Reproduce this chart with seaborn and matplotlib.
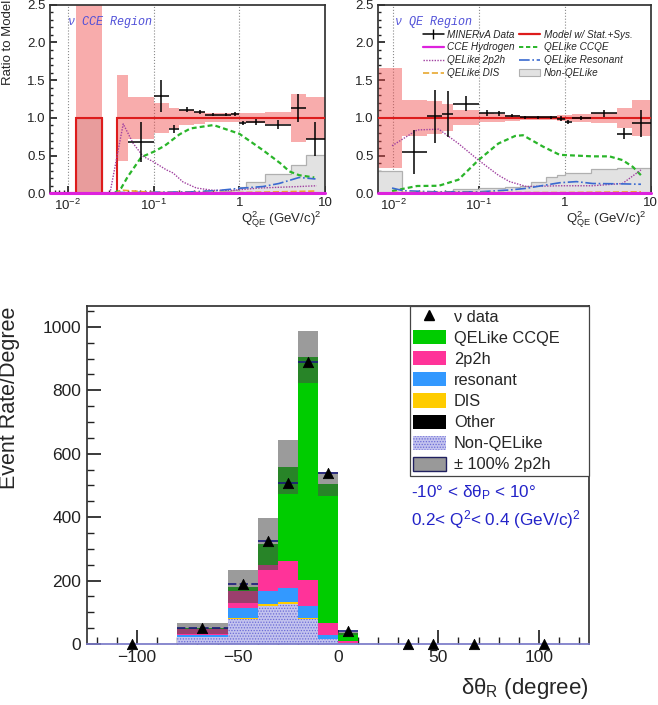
import numpy as np
import pandas as pd
import seaborn as sns
import matplotlib.pyplot as plt
from matplotlib.lines import Line2D
from matplotlib.patches import Patch
from matplotlib.colors import to_rgb
from matplotlib.ticker import FixedLocator, MultipleLocator, LogLocator, NullFormatter, FormatStrFormatter

# --------------------------
# Global style
# --------------------------
sns.set_theme(style="ticks")
plt.rcParams["font.family"] = ["Liberation Sans", "DejaVu Sans"]
plt.rcParams["mathtext.fontset"] = "custom"
plt.rcParams["mathtext.rm"] = "Liberation Sans"
plt.rcParams["mathtext.it"] = "Liberation Sans:italic"
plt.rcParams["hatch.color"] = "#6b6bd6"
plt.rcParams["hatch.linewidth"] = 0.6
plt.rcParams["axes.edgecolor"] = "#333333"

# =========================================================
# 1. Data: ratio to model vs Q2_QE (two regions)
# =========================================================
q2_edges = [0.00625, 0.0125, 0.025, 0.0375, 0.05, 0.1, 0.15, 0.2, 0.3, 0.4,
            0.6, 0.8, 1.0, 1.2, 2.0, 4.0, 6.0, 10.0]

# CCE region
model_cce = [0, 1, 0, 1, 1, 1, 1, 1, 1, 1, 1, 1, 1, 1, 1, 1, 1]
band_cce = [0, 2.0, 0, 0.57, 0.28, 0.20, 0.13, 0.10, 0.08, 0.06, 0.06, 0.06,
            0.06, 0.07, 0.08, 0.32, 0.28]
nonqe_cce = [0, 1.0, 0, 0, 0, 0.02, 0.02, 0.02, 0.02, 0.02, 0.03, 0.05,
             0.08, 0.15, 0.26, 0.37, 0.51]
data_cce = [np.nan, np.nan, np.nan, np.nan, 0.68, 1.29, 0.85, 1.11, 1.08, 1.04,
            1.04, 1.05, 0.93, 0.945, 0.91, 1.13, 0.72]
err_cce = [np.nan, np.nan, np.nan, np.nan, 0.27, 0.21, 0.05, 0.03, 0.03, 0.02,
           0.02, 0.03, 0.03, 0.04, 0.06, 0.19, 0.22]

q2_h_cce = [0.0062, 0.01, 0.1, 1.0, 10.0]
v_h_cce = [0.0, 0.0, 0.0, 0.0, 0.0]
q2_ccqe_cce = [0.035, 0.042, 0.05, 0.072, 0.1, 0.135, 0.2, 0.27, 0.5, 1.0, 1.9, 3.0, 3.85, 5.0, 7.5]
v_ccqe_cce = [0.0, 0.07, 0.22, 0.48, 0.55, 0.63, 0.78, 0.86, 0.905, 0.79, 0.57, 0.40, 0.29, 0.24, 0.21]
q2_2p2h_cce = [0.031, 0.0443, 0.058, 0.0757, 0.099, 0.1416, 0.169, 0.221, 0.316, 0.493, 0.843, 1.72, 5.0, 8.0]
v_2p2h_cce = [0.0, 0.92, 0.66, 0.49, 0.42, 0.31, 0.27, 0.15, 0.07, 0.04, 0.04, 0.07, 0.09, 0.10]
q2_res_cce = [0.035, 0.1, 0.3, 0.6, 1.0, 1.9, 2.9, 5.0, 7.75]
v_res_cce = [0.01, 0.015, 0.02, 0.04, 0.066, 0.09, 0.13, 0.21, 0.19]
q2_dis_cce = [0.035, 0.044, 0.06, 0.1, 1.0, 3.0, 7.75]
v_dis_cce = [0.0, 0.04, 0.03, 0.01, 0.01, 0.02, 0.03]

# QE region
model_qe = [1, 1, 1, 1, 1, 1, 1, 1, 1, 1, 1, 1, 1, 1, 1, 1, 1]
band_qe = [0.66, 0.24, 0.22, 0.18, 0.10, 0.06, 0.05, 0.04, 0.03, 0.03, 0.03,
           0.04, 0.04, 0.05, 0.07, 0.13, 0.24]
nonqe_qe = [0.30, 0.02, 0.02, 0.02, 0.06, 0.07, 0.07, 0.08, 0.10, 0.155, 0.22,
            0.24, 0.265, 0.265, 0.32, 0.33, 0.33]
data_qe = [np.nan, 0.55, 1.02, 1.05, 1.19, 1.06, 1.06, 1.025, 1.01, 1.01, 1.01,
           0.99, 0.945, 1.0, 1.06, 0.79, 0.93]
err_qe = [np.nan, 0.29, 0.35, 0.30, 0.10, 0.04, 0.03, 0.02, 0.02, 0.02, 0.02,
          0.03, 0.03, 0.03, 0.05, 0.07, 0.18]

q2_h_qe = [0.0066, 0.01, 0.1, 1.0, 10.0]
v_h_qe = [0.0, 0.0, 0.0, 0.0, 0.0]
q2_ccqe_qe = [0.0097, 0.019, 0.034, 0.0575, 0.0985, 0.168, 0.263, 0.325, 0.555, 0.87, 2.1, 3.3, 4.7, 6.2, 7.7]
v_ccqe_qe = [0.03, 0.097, 0.10, 0.18, 0.44, 0.66, 0.76, 0.77, 0.62, 0.51, 0.49, 0.49, 0.44, 0.35, 0.24]
q2_2p2h_qe = [0.0097, 0.019, 0.034, 0.0575, 0.0985, 0.168, 0.227, 0.356, 0.87, 2.1, 4.7, 7.7]
v_2p2h_qe = [0.63, 0.84, 0.85, 0.66, 0.44, 0.24, 0.155, 0.09, 0.10, 0.10, 0.13, 0.31]
q2_res_qe = [0.0097, 0.013, 0.03, 0.1, 0.227, 0.356, 0.6, 0.87, 1.36, 2.1, 4.7, 7.7]
v_res_qe = [0.07, 0.035, 0.02, 0.02, 0.044, 0.066, 0.11, 0.14, 0.155, 0.13, 0.125, 0.12]
q2_dis_qe = [0.0097, 0.1, 1.0, 7.7]
v_dis_qe = [0.01, 0.01, 0.01, 0.02]

# =========================================================
# 2. Data: event rate vs delta theta_R
# =========================================================
dtr_edges = [-125, -80, -55, -40, -30, -20, -10, 0, 10, 20, 30, 40, 55, 80, 125]
rate_ccqe = [0, 4, 15, 65, 296, 704, 439, 25, 0, 0, 0, 0, 0, 0]
rate_2p2h = [0, 17, 53, 82, 84, 82, 38, 5, 0, 0, 0, 0, 0, 0]
rate_res = [0, 6, 30, 42, 45, 38, 12, 2, 0, 0, 0, 0, 0, 0]
rate_dis = [0, 1, 3, 5, 7, 3, 1, 0, 0, 0, 0, 0, 0, 0]
rate_other = [0, 0, 0, 0, 0, 0, 0, 0, 0, 0, 0, 0, 0, 0]
rate_nonqe = [0, 22, 80, 120, 126, 79, 15, 2, 0, 0, 0, 0, 0, 0]
rate_data = [0, 50, 189, 326, 507, 889, 538, 42, np.nan, np.nan, 0, 0, 0, 0]

components = ["QELike CCQE", "2p2h", "resonant", "DIS", "Other", "Non-QELike"]
comp_colors = ["#00cc00", "#ff3399", "#3399ff", "#ffcc00", "#000000", "#c3c3ee"]

# --------------------------
# Figure
# --------------------------
fig = plt.figure(figsize=(6.58, 7.05), dpi=100)
ax1 = fig.add_axes([0.0760, 0.7258, 0.4179, 0.2675])
ax2 = fig.add_axes([0.5740, 0.7258, 0.4149, 0.2675])
ax3 = fig.add_axes([0.1322, 0.0865, 0.7629, 0.4799])


def ratio_panel(ax, xlim, model, band, nonqe, data, err, curves, region):
    model = np.array(model, float)
    band = np.array(band, float)
    ax.stairs(nonqe, q2_edges, fill=True, color="#e2e2e2", lw=0, zorder=1)
    ax.stairs(nonqe, q2_edges, baseline=None, color="#b0b0b0", lw=0.9, zorder=1.1)
    ax.stairs(model + band, q2_edges, baseline=model - band, fill=True,
              color="#f04848", alpha=0.45, lw=0, zorder=2)
    ax.stairs(model, q2_edges, baseline=None, color="#dd1c1c", lw=1.5, zorder=3)
    for x, y, color, ls, lw in curves:
        sns.lineplot(x=x, y=y, ax=ax, color=color, linestyle=ls, lw=lw, zorder=4)
    # hydrogen line on top, not clipped at the axis
    sns.lineplot(x=curves[0][0], y=curves[0][1], ax=ax, color="#dd22dd", lw=2.2,
                 zorder=4.5, clip_on=False)

    edges = np.array(q2_edges)
    lo_e, hi_e = edges[:-1], edges[1:]
    centers = np.sqrt(lo_e * hi_e)
    ax.errorbar(centers, data, xerr=[centers - lo_e, hi_e - centers], yerr=err,
                fmt="none", ecolor="black", elinewidth=1.1, capsize=0, zorder=6)

    for v in [0.01, 0.1, 1]:
        ax.axvline(v, color="#8a8a8a", ls=":", lw=0.8, zorder=0.5)

    ax.set_xscale("log")
    ax.set_xlim(*xlim)
    ax.set_ylim(0, 2.5)
    ax.xaxis.set_major_locator(FixedLocator([0.01, 0.1, 1, 10]))
    ax.set_xticklabels(["$10^{-2}$", "$10^{-1}$", "1", "10"])
    ax.xaxis.set_minor_locator(LogLocator(subs=np.arange(2, 10)))
    ax.xaxis.set_minor_formatter(NullFormatter())
    ax.yaxis.set_major_locator(MultipleLocator(0.5))
    ax.yaxis.set_minor_locator(MultipleLocator(0.1))
    ax.yaxis.set_major_formatter(FormatStrFormatter("%.1f"))
    ax.tick_params(which="both", direction="in", labelsize=9.5, pad=3,
                   colors="#222222")
    ax.tick_params(which="major", length=5)
    ax.tick_params(which="minor", length=2.5)
    ax.set_xlabel(r"Q$^{2}_{\rm QE}$ (GeV/c)$^{2}$", fontsize=9.5, loc="right")
    ax.xaxis.set_label_coords(0.985, -0.085)
    ax.xaxis.label.set_va("top")
    ax.set_ylabel("")
    ax.text(0.065, 0.91, region, transform=ax.transAxes, color="#5050d8",
            fontsize=8.5, family=["Liberation Mono", "DejaVu Sans Mono"],
            style="italic", va="center", ha="left")


curves_cce = [
    (q2_h_cce, v_h_cce, "#dd22dd", "-", 2.2),
    (q2_ccqe_cce, v_ccqe_cce, "#2ab52a", (0, (2.2, 1.4)), 1.6),
    (q2_2p2h_cce, v_2p2h_cce, "#a040a0", (0, (1, 1)), 1.0),
    (q2_res_cce, v_res_cce, "#3a6ad0", "-.", 1.2),
    (q2_dis_cce, v_dis_cce, "#e8a830", "--", 1.2),
]
curves_qe = [
    (q2_h_qe, v_h_qe, "#dd22dd", "-", 2.2),
    (q2_ccqe_qe, v_ccqe_qe, "#2ab52a", (0, (2.2, 1.4)), 1.6),
    (q2_2p2h_qe, v_2p2h_qe, "#a040a0", (0, (1, 1)), 1.0),
    (q2_res_qe, v_res_qe, "#3a6ad0", "-.", 1.2),
    (q2_dis_qe, v_dis_qe, "#e8a830", "--", 1.2),
]

ratio_panel(ax1, (0.0062, 10), model_cce, band_cce, nonqe_cce, data_cce, err_cce,
            curves_cce, "ν CCE Region")
ratio_panel(ax2, (0.0066, 10), model_qe, band_qe, nonqe_qe, data_qe, err_qe,
            curves_qe, "ν QE Region")

ax1.set_ylabel("Ratio to Model", fontsize=9.5, loc="top")
ax1.yaxis.set_label_coords(-0.13, 1.025)

leg_handles = [
    Line2D([], [], color="black", lw=1.1, marker="|", markersize=7),
    Line2D([], [], color="#dd22dd", lw=1.6),
    Line2D([], [], color="#a040a0", lw=1.0, ls=(0, (1, 1))),
    Line2D([], [], color="#e8a830", lw=1.2, ls="--"),
    Line2D([], [], color="#dd1c1c", lw=1.6),
    Line2D([], [], color="#2ab52a", lw=1.4, ls=(0, (2.2, 1.4))),
    Line2D([], [], color="#3a6ad0", lw=1.2, ls="-."),
    Patch(facecolor="#e2e2e2", edgecolor="#b0b0b0", lw=0.8),
]
leg_labels = ["MINERvA Data", "CCE Hydrogen", "QELike 2p2h", "QELike DIS",
              "Model w/ Stat.+Sys.", "QELike CCQE", "QELike Resonant", "Non-QELike"]
ax2.legend(leg_handles, leg_labels, ncol=2, loc="upper left",
           bbox_to_anchor=(0.165, 0.868), frameon=False,
           prop={"size": 7.2, "style": "italic"}, handlelength=2.1,
           handleheight=0.6, handletextpad=0.35, labelspacing=0.28,
           columnspacing=0.45, borderaxespad=0, borderpad=0)

# =========================================================
# Bottom panel: stacked event rate
# =========================================================
dtr_lo = np.array(dtr_edges[:-1], float)
dtr_hi = np.array(dtr_edges[1:], float)
dtr_centers = 0.5 * (dtr_lo + dtr_hi)

rates = [rate_ccqe, rate_2p2h, rate_res, rate_dis, rate_other, rate_nonqe]
df_stack = pd.DataFrame({
    "center": np.tile(dtr_centers, len(components)),
    "rate": np.concatenate([np.array(r, float) for r in rates]),
    "component": np.repeat(components, len(dtr_centers)),
})

sns.histplot(data=df_stack, x="center", weights="rate", hue="component",
             hue_order=components, palette=comp_colors, bins=dtr_edges,
             multiple="stack", element="bars", alpha=1, linewidth=0,
             legend=False, ax=ax3)

nonqe_rgb = np.array(to_rgb("#c3c3ee"))
for p in ax3.patches:
    if np.allclose(p.get_facecolor()[:3], nonqe_rgb, atol=0.01):
        p.set_hatch("......")
        p.set_edgecolor("#6b6bd6")
        p.set_linewidth(0)

total = np.sum([np.array(r, float) for r in rates], axis=0)
tp = np.array(rate_2p2h, float)
ax3.stairs(total + tp, dtr_edges, baseline=total - tp, fill=True,
           color="#4a4a4a", alpha=0.55, lw=0, zorder=3)

data_arr = np.array(rate_data, float)
shown = data_arr > 0
ax3.hlines(data_arr[shown], dtr_lo[shown], dtr_hi[shown], colors="#1a1a7a",
           linestyles=(0, (5, 2)), lw=1.2, zorder=4)
sns.scatterplot(x=dtr_centers, y=data_arr, marker="^", color="black", s=55,
                edgecolor="black", ax=ax3, zorder=5, clip_on=False)

ax3.set_xlim(-125, 125)
ax3.set_ylim(0, 1067)
ax3.xaxis.set_major_locator(MultipleLocator(50))
ax3.xaxis.set_minor_locator(MultipleLocator(10))
ax3.yaxis.set_major_locator(MultipleLocator(200))
ax3.yaxis.set_minor_locator(MultipleLocator(50))
ax3.tick_params(which="both", direction="in", labelsize=12.5, pad=4,
                colors="#222222")
ax3.tick_params(which="major", length=10)
ax3.tick_params(which="minor", length=5)
ax3.spines["bottom"].set_color("#7a7ac8")

ax3.set_ylabel("Event Rate/Degree", fontsize=15.5, loc="top")
ax3.yaxis.set_label_coords(-0.134, 0.996)
ax3.set_xlabel(r"δθ$_{\rm R}$ (degree)", fontsize=16, loc="right")
ax3.xaxis.set_label_coords(1.0, -0.095)
ax3.xaxis.label.set_va("top")

leg3_handles = [Line2D([], [], color="black", marker="^", ls="none", markersize=7)]
for c, col in zip(components, comp_colors):
    if c == "Non-QELike":
        leg3_handles.append(Patch(facecolor=col, hatch="......", edgecolor="#6b6bd6", lw=0))
    else:
        leg3_handles.append(Patch(facecolor=col, lw=0))
leg3_handles.append(Patch(facecolor="#999999", edgecolor="#202060", lw=1.0))
leg3_labels = ["ν data"] + components + ["± 100% 2p2h"]
ax3.legend(leg3_handles, leg3_labels, loc="upper right",
           bbox_to_anchor=(0.643, 0.5, 0.357, 0.5), mode="expand",
           borderaxespad=0, fancybox=False, edgecolor="#444444", framealpha=1,
           fontsize=11.8, handlelength=2.0, handleheight=0.95, handletextpad=0.5,
           labelspacing=0.33, borderpad=0.2)
ax3.get_legend().get_frame().set_linewidth(0.9)

ax3.text(0.645, 0.446, "-10° < δθ$_{\\rm P}$ < 10°", transform=ax3.transAxes,
         fontsize=12.3, color="#2323c8", va="center")
ax3.text(0.645, 0.367, "0.2< Q$^{2}$< 0.4 (GeV/c)$^{2}$", transform=ax3.transAxes,
         fontsize=12.3, color="#2323c8", va="center")

fig.savefig("out.png", dpi=100)
